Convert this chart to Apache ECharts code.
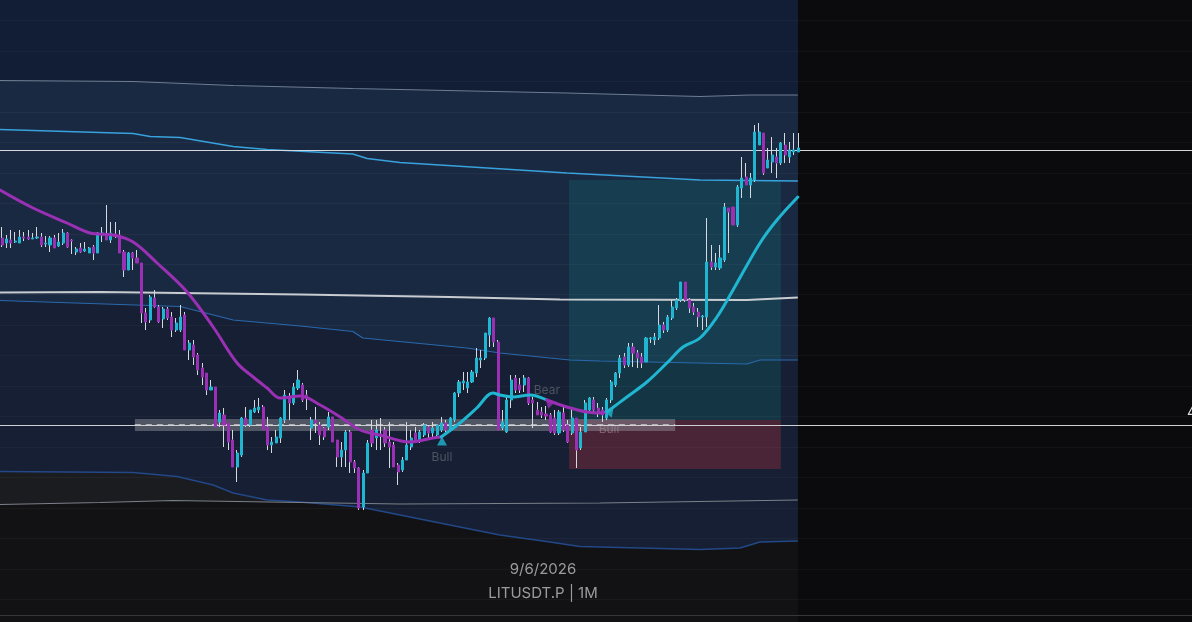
<!DOCTYPE html>
<html><head><meta charset="utf-8">
<script src="https://cdn.jsdelivr.net/npm/echarts@6/dist/echarts.min.js"></script>
<style>html,body{margin:0;padding:0;background:#0b0b0d;overflow:hidden}#c{width:1192px;height:622px}</style>
</head><body><div id="c"></div>
<script>
// ---- data ----
const CATEGORY_COUNT = 274; // visible bar slots incl. empty future space
// candles: [open, close, low, high]
const ohlc = [
[4.524,4.510,4.506,4.546],[4.514,4.522,4.504,4.530],[4.520,4.514,4.504,4.540],[4.516,4.518,4.514,4.536],
[4.514,4.526,4.514,4.540],[4.526,4.524,4.518,4.536],[4.526,4.522,4.520,4.540],[4.522,4.524,4.522,4.534],
[4.524,4.526,4.522,4.546],[4.526,4.510,4.506,4.534],[4.512,4.514,4.506,4.528],[4.510,4.524,4.496,4.528],
[4.524,4.504,4.504,4.530],[4.508,4.516,4.506,4.534],[4.514,4.534,4.510,4.542],[4.534,4.506,4.504,4.536],
[4.520,4.518,4.492,4.522],[4.496,4.502,4.490,4.506],[4.504,4.496,4.494,4.514],[4.498,4.502,4.496,4.516],
[4.494,4.504,4.494,4.506],[4.506,4.494,4.480,4.510],[4.494,4.534,4.494,4.536],[4.530,4.534,4.516,4.546],
[4.530,4.520,4.520,4.590],[4.520,4.534,4.514,4.556],[4.532,4.528,4.524,4.556],[4.530,4.494,4.494,4.540],
[4.496,4.460,4.446,4.500],[4.460,4.494,4.460,4.496],[4.494,4.484,4.460,4.496],[4.484,4.474,4.474,4.500],
[4.474,4.374,4.354,4.474],[4.374,4.356,4.340,4.384],[4.360,4.406,4.354,4.410],[4.404,4.386,4.384,4.420],
[4.386,4.356,4.354,4.390],[4.362,4.382,4.344,4.386],[4.382,4.364,4.360,4.386],[4.366,4.340,4.326,4.376],
[4.340,4.354,4.336,4.364],[4.340,4.366,4.336,4.390],[4.370,4.300,4.300,4.376],[4.300,4.314,4.280,4.320],
[4.310,4.286,4.270,4.320],[4.290,4.260,4.250,4.294],[4.264,4.246,4.230,4.274],[4.254,4.220,4.210,4.254],
[4.220,4.226,4.220,4.240],[4.226,4.146,4.146,4.226],[4.156,4.174,4.146,4.180],[4.170,4.150,4.106,4.184],
[4.154,4.116,4.100,4.154],[4.120,4.066,4.066,4.140],[4.066,4.094,4.036,4.100],[4.090,4.164,4.086,4.166],
[4.164,4.150,4.146,4.186],[4.150,4.180,4.146,4.180],[4.176,4.184,4.174,4.200],[4.180,4.186,4.174,4.204],
[4.186,4.140,4.140,4.190],[4.146,4.110,4.100,4.166],[4.110,4.116,4.094,4.126],[4.114,4.126,4.114,4.140],
[4.124,4.164,4.114,4.166],[4.160,4.210,4.154,4.220],[4.206,4.194,4.160,4.214],[4.194,4.226,4.190,4.234],
[4.224,4.240,4.220,4.260],[4.230,4.200,4.196,4.234],[4.210,4.204,4.180,4.220],[4.144,4.160,4.120,4.166],
[4.160,4.154,4.134,4.186],[4.150,4.130,4.110,4.156],[4.144,4.126,4.120,4.146],[4.146,4.166,4.140,4.176],
[4.166,4.116,4.116,4.166],[4.120,4.086,4.066,4.120],[4.086,4.100,4.066,4.116],[4.100,4.136,4.066,4.140],
[4.136,4.076,4.054,4.140],[4.076,4.064,4.054,4.080],[4.064,3.984,3.980,4.066],[3.986,4.054,3.980,4.060],
[4.054,4.114,4.054,4.120],[4.140,4.114,4.106,4.160],[4.124,4.140,4.100,4.160],[4.128,4.132,4.100,4.164],
[4.140,4.114,4.106,4.146],[4.116,4.106,4.064,4.156],[4.110,4.066,4.066,4.116],[4.070,4.056,4.030,4.074],
[4.060,4.080,4.056,4.086],[4.080,4.110,4.080,4.156],[4.106,4.124,4.100,4.140],[4.134,4.116,4.114,4.146],
[4.120,4.136,4.114,4.140],[4.130,4.150,4.126,4.154],[4.146,4.134,4.124,4.150],[4.134,4.144,4.126,4.156],
[4.130,4.150,4.126,4.150],[4.140,4.154,4.136,4.166],[4.154,4.140,4.136,4.160],[4.140,4.164,4.140,4.166],
[4.160,4.214,4.156,4.216],[4.214,4.236,4.206,4.240],[4.234,4.238,4.220,4.256],[4.224,4.236,4.214,4.256],
[4.236,4.256,4.234,4.260],[4.254,4.284,4.246,4.304],[4.280,4.284,4.264,4.300],[4.284,4.334,4.280,4.334],
[4.330,4.364,4.306,4.366],[4.364,4.316,4.306,4.364],[4.316,4.140,4.140,4.320],[4.144,4.156,4.140,4.180],
[4.136,4.200,4.134,4.206],[4.200,4.240,4.184,4.250],[4.244,4.220,4.214,4.250],[4.230,4.220,4.214,4.244],
[4.230,4.244,4.216,4.250],[4.244,4.194,4.190,4.246],[4.200,4.194,4.144,4.206],[4.180,4.170,4.170,4.196],
[4.176,4.170,4.164,4.186],[4.172,4.168,4.160,4.188],[4.170,4.136,4.134,4.174],[4.164,4.134,4.130,4.180],
[4.134,4.176,4.130,4.180],[4.174,4.140,4.136,4.186],[4.150,4.116,4.114,4.160],[4.134,4.164,4.130,4.184],
[4.164,4.100,4.064,4.164],[4.104,4.136,4.100,4.146],[4.136,4.194,4.136,4.200],[4.180,4.204,4.174,4.206],
[4.200,4.180,4.174,4.206],[4.184,4.174,4.166,4.194],[4.180,4.170,4.156,4.186],[4.164,4.200,4.160,4.204],
[4.200,4.236,4.194,4.240],[4.230,4.254,4.226,4.256],[4.254,4.284,4.244,4.290],[4.286,4.270,4.264,4.294],
[4.270,4.306,4.266,4.314],[4.306,4.294,4.266,4.314],[4.294,4.284,4.264,4.300],[4.286,4.274,4.264,4.294],
[4.276,4.324,4.276,4.326],[4.322,4.324,4.314,4.326],[4.320,4.326,4.310,4.334],[4.324,4.350,4.320,4.390],
[4.350,4.340,4.334,4.356],[4.340,4.366,4.336,4.370],[4.364,4.386,4.360,4.400],[4.384,4.400,4.380,4.404],
[4.400,4.436,4.396,4.436],[4.436,4.400,4.396,4.436],[4.400,4.384,4.374,4.404],[4.386,4.376,4.370,4.394],
[4.376,4.366,4.346,4.384],[4.366,4.368,4.340,4.370],[4.366,4.476,4.346,4.564],[4.476,4.466,4.460,4.510],
[4.466,4.474,4.460,4.494],[4.464,4.484,4.460,4.510],[4.480,4.586,4.476,4.594],[4.584,4.576,4.494,4.584],
[4.586,4.550,4.550,4.586],[4.550,4.626,4.546,4.630],[4.624,4.644,4.604,4.686],[4.646,4.630,4.630,4.674],
[4.630,4.644,4.604,4.654],[4.640,4.736,4.636,4.750],[4.710,4.736,4.710,4.754],[4.734,4.654,4.650,4.734],
[4.664,4.680,4.664,4.704],[4.676,4.690,4.654,4.726],[4.686,4.674,4.644,4.704],[4.674,4.714,4.670,4.716],
[4.710,4.690,4.674,4.734],[4.686,4.700,4.674,4.716],[4.696,4.700,4.690,4.734],[4.696,4.704,4.696,4.734]
];
// moving average, split by trend state: [barPosition, price]
const maBear1 = [[-0.5,4.620],[7.1,4.584],[14.9,4.554],[20.2,4.534],[25.5,4.530],[30.1,4.516],[35.6,4.474],[42.5,4.416],[48.5,4.346],[54.0,4.274],[57.7,4.246],[60.9,4.224],[63.9,4.204],[68.5,4.208],[73.1,4.190],[77.7,4.166],[82.3,4.140],[86.8,4.130],[93.7,4.116],[99.0,4.124],[100.9,4.126]];
const maBull1 = [[100.9,4.126],[105.2,4.154],[109.1,4.184],[112.8,4.214],[114.4,4.210],[117.4,4.206],[121.3,4.210],[125.2,4.200]];
const maBear2 = [[125.2,4.200],[129.8,4.186],[134.4,4.176],[137.4,4.174],[139.0,4.176]];
const maBull2 = [[139.0,4.176],[143.6,4.206],[148.2,4.236],[152.8,4.274],[156.5,4.306],[160.4,4.324],[164.3,4.366],[168.0,4.420],[174.2,4.514],[178.1,4.560],[182.9,4.606]];
// envelope bands
const bandTopGray = [[-0.5,4.839],[30.1,4.837],[53.1,4.829],[80.6,4.823],[91.4,4.821],[129.8,4.814],[160.4,4.807],[171.9,4.810],[182.9,4.810]];
const bandUpperBlue = [[-0.5,4.741],[30.1,4.733],[34.0,4.727],[40.9,4.725],[53.1,4.707],[60.9,4.701],[80.6,4.692],[83.9,4.683],[91.4,4.675],[129.8,4.654],[160.4,4.640],[182.9,4.638]];
const bandMid = [[-0.5,4.415],[22.5,4.416],[68.5,4.411],[102.9,4.406],[128.2,4.401],[171.2,4.400],[182.9,4.405]];
const bandLowerBlue = [[-0.5,4.399],[40.9,4.387],[53.1,4.360],[68.5,4.348],[80.6,4.337],[82.9,4.324],[106.8,4.304],[114.4,4.294],[130.5,4.280],[137.4,4.278],[171.2,4.272],[174.2,4.280],[182.9,4.280]];
const bandBottomBlue = [[-0.5,4.057],[30.1,4.055],[40.2,4.047],[48.5,4.030],[53.1,4.014],[60.9,4.000],[68.5,3.996],[82.3,3.986],[102.9,3.950],[114.4,3.930],[125.9,3.916],[132.8,3.907],[160.4,3.901],[169.6,3.904],[174.2,3.916],[182.9,3.918]];
const bandBottomGray = [[-0.5,3.991],[22.5,3.995],[39.3,3.999],[68.5,3.995],[91.4,3.992],[137.4,3.994],[182.9,4.000]];
// zone & position tool
const zoneBars = [30.5, 154.7];
const zonePrices = [4.162, 4.152, 4.138]; // top, mid, bottom
const positionBars = [130.3, 179.0];
const positionPrices = [4.640, 4.160, 4.062]; // target, entry, stop
// horizontal levels
const levelDotted = 4.7034, levelSolid = 4.697, levelEntry = 4.146, levelFooter = 3.774;
// signals
const bullSignals = [[101.1,4.118,0],[139.3,4.176,80]];
const bearSignals = [[125.6,4.196,45]];
const signalLabels = [[101.1,4.086,'Bull'],[125.2,4.220,'Bear']];
const hiddenLabels = [[139.5,4.142,'Bull']];
const footerDate = '9/6/2026', footerSymbol = 'LITUSDT.P | 1M';

// ---- chart ----
const cats = Array.from({length: CATEGORY_COUNT}, (_, i) => String(i));
const bodies = ohlc.map(d => [d[0], d[1], Math.min(d[0], d[1]), Math.max(d[0], d[1])]);
const BULL = '#20b6d2', BEAR = '#9a30b4';

function fill(data, color, origin, z) {
  return {type:'line', xAxisIndex:1, yAxisIndex:0, data, symbol:'none', silent:true,
    lineStyle:{width:0, opacity:0}, areaStyle:{color, origin, opacity:1}, z};
}
function band(data, color, width, extra) {
  return Object.assign({type:'line', xAxisIndex:1, yAxisIndex:0, data, symbol:'none', silent:true,
    lineStyle:{color, width}, z:4}, extra || {});
}
function ma(data, color) {
  return {type:'line', xAxisIndex:1, yAxisIndex:0, data, symbol:'none', silent:true, smooth:0.35,
    lineStyle:{color, width:3, cap:'round'}, z:8};
}

const chart = echarts.init(document.getElementById('c'), null, {renderer:'canvas'});
chart.setOption({
  backgroundColor:'#0b0b0d',
  animation:false,
  title:[
    {text:footerDate, left:538, top:557, textAlign:'center', textStyle:{color:'#9c9c9c', fontSize:15, fontWeight:'normal', fontFamily:'Inter'}},
    {text:footerSymbol, left:538, top:581, textAlign:'center', textStyle:{color:'#9c9c9c', fontSize:15, fontWeight:'normal', fontFamily:'Inter'}}
  ],
  grid:[
    {left:0, right:0, top:0, bottom:0},
    {left:0, right:0, top:20.6, height:578.7}
  ],
  xAxis:[
    {type:'category', gridIndex:0, data:cats, show:false},
    {type:'value', gridIndex:0, min:-0.5, max:CATEGORY_COUNT-0.5, show:false},
    {type:'value', gridIndex:1, min:0, max:1, show:false}
  ],
  yAxis:[
    {type:'value', gridIndex:0, min:3.756, max:5.0, show:false},
    {type:'value', gridIndex:1, min:0, max:19, interval:1, z:3,
      axisLine:{show:false}, axisTick:{show:false}, axisLabel:{show:false},
      splitLine:{show:true, lineStyle:{color:'rgba(255,255,255,0.035)', width:1}}}
  ],
  graphic:[
    {type:'text', x:1187, y:413, z:20, style:{text:levelEntry.toFixed(3), fill:'#dedede', font:'14px Inter', verticalAlign:'middle'}}
  ],
  series:[
    {type:'line', xAxisIndex:2, yAxisIndex:1, data:[], silent:true},
    fill(bandBottomGray, '#121215', 'start', 1),
    fill(bandBottomGray, '#1b1c20', 'end', 1),
    fill(bandBottomBlue, '#161f33', 'end', 1),
    fill(bandLowerBlue, '#1a2942', 'end', 1),
    fill(bandTopGray, '#111e36', 'end', 1),
    {type:'scatter', xAxisIndex:1, yAxisIndex:0, silent:true, z:2, symbolSize:1,
      itemStyle:{color:'transparent'},
      data:hiddenLabels.map(d => ({value:[d[0], d[1]], label:{formatter:d[2]}})),
      label:{show:true, position:'inside', color:'#767c86', fontSize:12, fontFamily:'Inter'}},
    {type:'line', xAxisIndex:1, yAxisIndex:0, data:[[positionBars[0], positionPrices[1]]], symbol:'none', silent:true,
      lineStyle:{opacity:0}, z:3,
      markArea:{silent:true, z:3, data:[
        [{coord:[positionBars[0], positionPrices[0]], itemStyle:{color:'rgba(16,150,140,0.2)'}}, {coord:[positionBars[1], positionPrices[1]]}],
        [{coord:[positionBars[0], positionPrices[1]], itemStyle:{color:'rgba(242,54,69,0.24)'}}, {coord:[positionBars[1], positionPrices[2]]}],
        [{coord:[zoneBars[0], zonePrices[0]], itemStyle:{color:'rgba(150,153,160,0.45)'}}, {coord:[zoneBars[1], zonePrices[2]]}]
      ]},
      markLine:{silent:true, z:5, symbol:['none','none'], label:{show:false},
        data:[[{coord:[zoneBars[0], zonePrices[1]]}, {coord:[zoneBars[1], zonePrices[1]]}]],
        lineStyle:{color:'rgba(205,208,212,0.75)', type:[6,5], width:1}}},
    band(bandTopGray, '#6e7d92', 1.2),
    band(bandUpperBlue, '#38a2dc', 1.4),
    band(bandMid, '#c8ccd1', 2.2),
    band(bandLowerBlue, '#2a69ad', 1.2),
    band(bandBottomBlue, '#234887', 1.4),
    band(bandBottomGray, '#7b8089', 1.2, {
      markLine:{silent:true, z:5, symbol:['none','none'], label:{show:false}, data:[
        {yAxis:levelDotted, lineStyle:{color:'#c4c7cc', type:[1,2], width:1}},
        {yAxis:levelSolid, lineStyle:{color:'#d4d8dc', type:'solid', width:1}},
        {yAxis:levelEntry, lineStyle:{color:'#d0d0d2', type:'solid', width:1}},
        {yAxis:levelFooter, lineStyle:{color:'#36363b', type:'solid', width:1}}
      ]}}),
    {type:'candlestick', xAxisIndex:0, yAxisIndex:0, data:ohlc, barWidth:1, silent:true, z:6,
      itemStyle:{color:'#d6dae0', color0:'#d6dae0', borderColor:'#d6dae0', borderColor0:'#d6dae0', borderWidth:1}},
    {type:'candlestick', xAxisIndex:0, yAxisIndex:0, data:bodies, barWidth:2.6, silent:true, z:7,
      itemStyle:{color:BULL, color0:BEAR, borderColor:BULL, borderColor0:BEAR, borderWidth:1}},
    ma(maBear1, BEAR), ma(maBull1, BULL), ma(maBear2, BEAR), ma(maBull2, BULL),
    {type:'scatter', xAxisIndex:1, yAxisIndex:0, silent:true, z:9, symbol:'triangle', symbolSize:[10,9],
      itemStyle:{color:BULL},
      data:bullSignals.map(d => ({value:[d[0], d[1]], symbolRotate:d[2]}))},
    {type:'scatter', xAxisIndex:1, yAxisIndex:0, silent:true, z:9, symbol:'triangle', symbolSize:[10,9],
      itemStyle:{color:BEAR},
      data:bearSignals.map(d => ({value:[d[0], d[1]], symbolRotate:d[2]}))},
    {type:'scatter', xAxisIndex:1, yAxisIndex:0, silent:true, z:9, symbolSize:1,
      itemStyle:{color:'transparent'},
      data:signalLabels.map(d => ({value:[d[0], d[1]], label:{formatter:d[2]}})),
      label:{show:true, position:'inside', color:'#5b626d', fontSize:12, fontFamily:'Inter'}}
  ]
});
</script>
</body></html>
